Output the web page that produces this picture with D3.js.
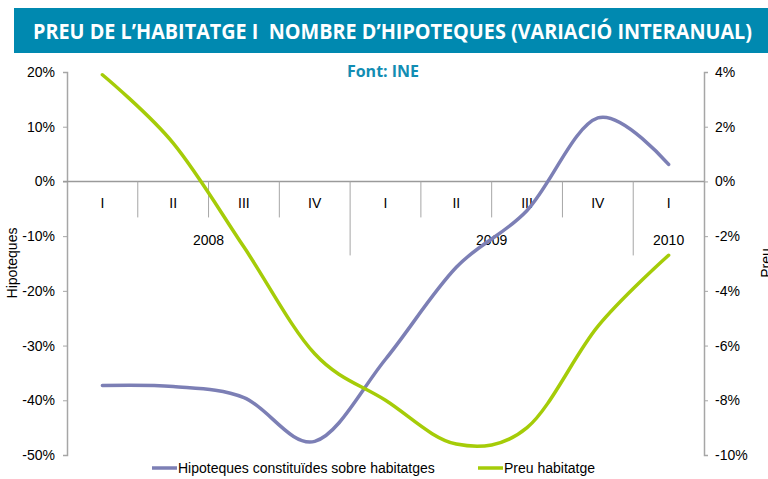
<!DOCTYPE html>
<html>
<head>
<meta charset="utf-8">
<script src="https://cdn.jsdelivr.net/npm/d3@7"></script>
<style>
  body { margin: 0; background: #fff; }
  text { font-family: "Liberation Sans", Arial, sans-serif; }
</style>
</head>
<body>
<script>
// Chart data
var quarters = ["I", "II", "III", "IV", "I", "II", "III", "IV", "I"];
var years = ["2008", "2009", "2010"];
var yearSpan = [4, 4, 1];
var hipoteques = [-37.3, -37.5, -39.5, -47.5, -32.5, -15.7, -5.3, 11.6, 3.1];
var preu = [3.9, 1.4, -2.4, -6.3, -8.0, -9.6, -9.0, -5.3, -2.7];
var leftTicks = [20, 10, 0, -10, -20, -30, -40, -50];
var rightTicks = [4, 2, 0, -2, -4, -6, -8, -10];

var svgWidth = 768;
var svgHeight = 479;

// plot area
var plotLeft = 67, plotRight = 704, plotTop = 72, plotBottom = 455;

var svg = d3.select("body")
  .append("svg")
  .attr("width", svgWidth)
  .attr("height", svgHeight);

// title bar
svg.append("rect")
  .attr("x", 14).attr("y", 8)
  .attr("width", svgWidth - 14).attr("height", 45)
  .attr("fill", "#0089b0");

svg.append("text")
  .attr("x", 33).attr("y", 39)
  .attr("textLength", 719)
  .attr("lengthAdjust", "spacingAndGlyphs")
  .style("font-family", "'Open Sans', sans-serif")
  .style("font-weight", "700")
  .style("font-size", "22px")
  .style("white-space", "pre")
  .attr("fill", "#fff")
  .text("PREU DE L\u2019HABITATGE I  NOMBRE D\u2019HIPOTEQUES (VARIACIÓ INTERANUAL)");

svg.append("text")
  .attr("x", 383).attr("y", 77)
  .attr("text-anchor", "middle")
  .style("font-family", "'Open Sans', sans-serif")
  .style("font-weight", "700")
  .style("font-size", "16px")
  .attr("fill", "#128db3")
  .text("Font: INE");

// scales
var xBand = d3.scaleBand()
  .domain(d3.range(quarters.length))
  .range([plotLeft, plotRight])
  .padding(0);

var yLeft = d3.scaleLinear().domain([-50, 20]).range([plotBottom, plotTop]);
var yRight = d3.scaleLinear().domain([-10, 4]).range([plotBottom, plotTop]);

var xMid = function(i) { return xBand(i) + xBand.bandwidth() / 2; };

// left axis
var leftAxis = d3.axisLeft(yLeft)
  .tickValues(leftTicks)
  .tickSize(4)
  .tickPadding(8)
  .tickFormat(function(d) { return d + "%"; });

var gl = svg.append("g")
  .attr("transform", "translate(" + plotLeft + ",0)")
  .call(leftAxis);

// right axis
var rightAxis = d3.axisRight(yRight)
  .tickValues(rightTicks)
  .tickSize(4)
  .tickPadding(7)
  .tickFormat(function(d) { return d + "%"; });

var gr = svg.append("g")
  .attr("transform", "translate(" + plotRight + ",0)")
  .call(rightAxis);

[gl, gr].forEach(function(g) {
  g.select(".domain").attr("stroke", "#a6a6a6").attr("stroke-width", 1.5);
  g.selectAll(".tick line").attr("stroke", "#a6a6a6");
  g.selectAll(".tick text")
    .style("font-family", "'Liberation Sans', Arial, sans-serif")
    .style("font-size", "14px")
    .attr("fill", "#000");
});

// category axis along the 0% line
var y0 = yLeft(0);
svg.append("line")
  .attr("x1", plotLeft - 4).attr("x2", plotRight)
  .attr("y1", y0).attr("y2", y0)
  .attr("stroke", "#9a9a9a").attr("stroke-width", 1.5);

// separators between quarters, longer ones between years
var yearStart = [];
var acc = 0;
yearSpan.forEach(function(n) { yearStart.push(acc); acc += n; });

d3.range(1, quarters.length).forEach(function(i) {
  var isYear = yearStart.indexOf(i) >= 0;
  svg.append("line")
    .attr("x1", xBand(i)).attr("x2", xBand(i))
    .attr("y1", y0).attr("y2", isYear ? y0 + 74 : y0 + 36)
    .attr("stroke", "#a6a6a6").attr("stroke-width", 1);
});

svg.selectAll(".qlabel")
  .data(quarters)
  .enter()
  .append("text")
  .attr("class", "qlabel")
  .attr("x", function(d, i) { return xMid(i); })
  .attr("y", y0 + 27)
  .attr("text-anchor", "middle")
  .style("font-size", "14px")
  .attr("fill", "#000")
  .text(function(d) { return d; });

svg.selectAll(".ylabel")
  .data(years)
  .enter()
  .append("text")
  .attr("class", "ylabel")
  .attr("x", function(d, i) {
    var a = xBand(yearStart[i]);
    var b = xBand(yearStart[i] + yearSpan[i] - 1) + xBand.bandwidth();
    return (a + b) / 2;
  })
  .attr("y", y0 + 64)
  .attr("text-anchor", "middle")
  .style("font-size", "14px")
  .attr("fill", "#000")
  .text(function(d) { return d; });

// axis titles
svg.append("text")
  .attr("transform", "translate(17,263) rotate(-90)")
  .attr("text-anchor", "middle")
  .style("font-size", "14px")
  .attr("fill", "#000")
  .text("Hipoteques");

svg.append("text")
  .attr("transform", "translate(771,263) rotate(-90)")
  .attr("text-anchor", "middle")
  .style("font-size", "14px")
  .attr("fill", "#000")
  .text("Preu");

// lines
var curve = d3.curveCardinal.tension(0);

var lineLeft = d3.line()
  .x(function(d, i) { return xMid(i); })
  .y(function(d) { return yLeft(d); })
  .curve(curve);

var lineRight = d3.line()
  .x(function(d, i) { return xMid(i); })
  .y(function(d) { return yRight(d); })
  .curve(curve);

svg.append("path")
  .datum(hipoteques)
  .attr("d", lineLeft)
  .attr("fill", "none")
  .attr("stroke", "#7c7fb5")
  .attr("stroke-width", 3.5)
  .attr("stroke-linecap", "round");

svg.append("path")
  .datum(preu)
  .attr("d", lineRight)
  .attr("fill", "none")
  .attr("stroke", "#a5cc08")
  .attr("stroke-width", 3.5)
  .attr("stroke-linecap", "round");

// legend
var legend = [
  { name: "Hipoteques constituïdes sobre habitatges", color: "#7c7fb5", x: 152 },
  { name: "Preu habitatge", color: "#a5cc08", x: 478 }
];

legend.forEach(function(l) {
  svg.append("line")
    .attr("x1", l.x).attr("x2", l.x + 25)
    .attr("y1", 468).attr("y2", 468)
    .attr("stroke", l.color).attr("stroke-width", 3.5);
  svg.append("text")
    .attr("x", l.x + 26).attr("y", 473)
    .style("font-size", "14px")
    .attr("fill", "#000")
    .text(l.name);
});
</script>
</body>
</html>
